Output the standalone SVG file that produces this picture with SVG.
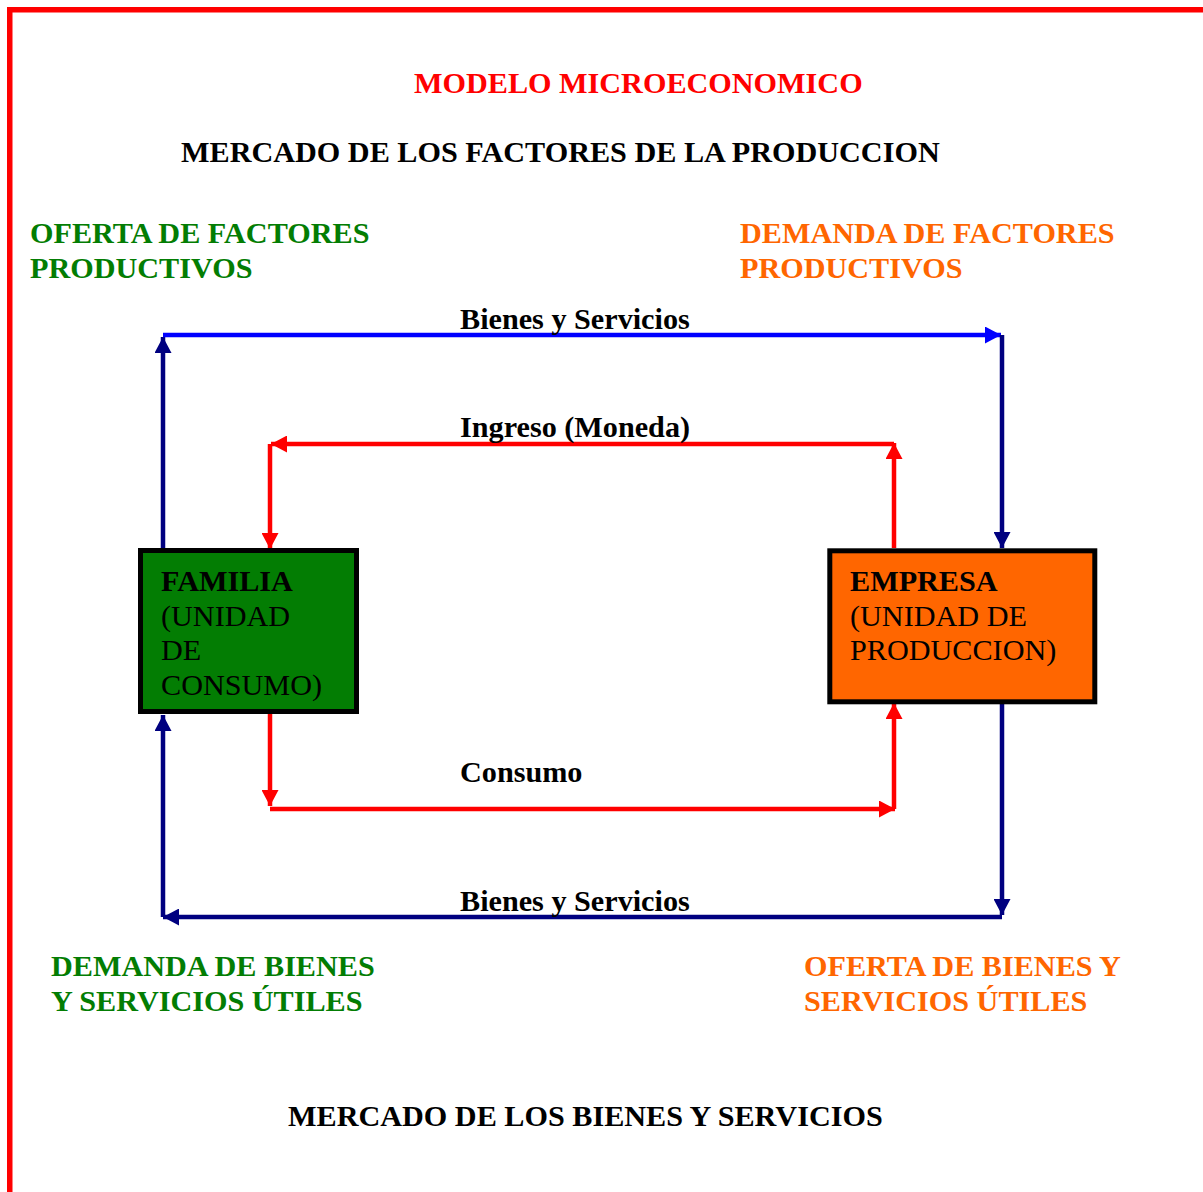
<svg xmlns="http://www.w3.org/2000/svg" width="1203" height="1192" viewBox="0 0 1203 1192">
  <style>
    text { font-family: "Liberation Serif", "Times New Roman", serif; font-size: 30.2px; }
    .b { font-weight: bold; }
    .red { fill: #ff0000; }
    .blk { fill: #000000; }
    .grn { fill: #037d03; }
    .org { fill: #ff6600; }
    .ln { fill: none; stroke-width: 4.5; }
    .navy { stroke: #000080; }
    .blue { stroke: #0000ff; }
    .rline { stroke: #ff0000; }
    .box { stroke: #000000; stroke-width: 5; }
  </style>
  <defs>
    <marker id="ahNavy" markerUnits="userSpaceOnUse" markerWidth="17" markerHeight="17" refX="16" refY="8.5" orient="auto">
      <path d="M0,0 L16,8.5 L0,17 Z" fill="#000080"/>
    </marker>
    <marker id="ahBlue" markerUnits="userSpaceOnUse" markerWidth="17" markerHeight="17" refX="16" refY="8.5" orient="auto">
      <path d="M0,0 L16,8.5 L0,17 Z" fill="#0000ff"/>
    </marker>
    <marker id="ahRed" markerUnits="userSpaceOnUse" markerWidth="17" markerHeight="17" refX="16" refY="8.5" orient="auto">
      <path d="M0,0 L16,8.5 L0,17 Z" fill="#ff0000"/>
    </marker>
  </defs>

  <rect x="0" y="0" width="1203" height="1192" fill="#ffffff"/>
  <!-- page frame: top and left edges -->
  <path d="M9.75,1200 V9.75 H1210" fill="none" stroke="#ff0000" stroke-width="5.5"/>

  <!-- headings -->
  <text class="b red" x="414" y="93">MODELO MICROECONOMICO</text>
  <text class="b blk" x="181" y="162">MERCADO DE LOS FACTORES DE LA PRODUCCION</text>

  <text class="b grn" x="30" y="243">OFERTA DE FACTORES</text>
  <text class="b grn" x="30" y="277.5">PRODUCTIVOS</text>
  <text class="b org" x="740" y="243">DEMANDA DE FACTORES</text>
  <text class="b org" x="740" y="277.5">PRODUCTIVOS</text>

  <text class="b grn" x="51" y="976">DEMANDA DE BIENES</text>
  <text class="b grn" x="51" y="1011">Y SERVICIOS ÚTILES</text>
  <text class="b org" x="804" y="976">OFERTA DE BIENES Y</text>
  <text class="b org" x="804" y="1011">SERVICIOS ÚTILES</text>

  <text class="b blk" x="288" y="1126">MERCADO DE LOS BIENES Y SERVICIOS</text>

  <!-- flows -->
  <g id="connectors">
    <path class="ln navy" d="M163,548 V337" marker-end="url(#ahNavy)"/>
    <path class="ln blue" d="M163,335 H1001" marker-end="url(#ahBlue)"/>
    <path class="ln navy" d="M1002,335 V548" marker-end="url(#ahNavy)"/>

    <path class="ln rline" d="M894,548 V443" marker-end="url(#ahRed)"/>
    <path class="ln rline" d="M894,444 H271" marker-end="url(#ahRed)"/>
    <path class="ln rline" d="M270,444 V549" marker-end="url(#ahRed)"/>

    <path class="ln rline" d="M270,714 V806" marker-end="url(#ahRed)"/>
    <path class="ln rline" d="M270,809 H895" marker-end="url(#ahRed)"/>
    <path class="ln rline" d="M894,809 V703" marker-end="url(#ahRed)"/>

    <path class="ln navy" d="M1002,704 V915" marker-end="url(#ahNavy)"/>
    <path class="ln navy" d="M1002,917 H163" marker-end="url(#ahNavy)"/>
    <path class="ln navy" d="M163,917 V715" marker-end="url(#ahNavy)"/>

    <text class="b blk" x="460" y="329">Bienes y Servicios</text>
    <text class="b blk" x="460" y="437">Ingreso (Moneda)</text>
    <text class="b blk" x="460" y="782">Consumo</text>
    <text class="b blk" x="460" y="911">Bienes y Servicios</text>
  </g>

  <g id="familia">
    <rect class="box" x="140.5" y="550.5" width="216" height="161" fill="#037d03"/>
    <text class="b blk" x="161" y="591">FAMILIA</text>
    <text class="blk" x="161" y="625.5">(UNIDAD</text>
    <text class="blk" x="161" y="660">DE</text>
    <text class="blk" x="161" y="694.5">CONSUMO)</text>
  </g>

  <g id="empresa">
    <rect class="box" x="829.8" y="550.8" width="265" height="151" fill="#ff6600"/>
    <text class="b blk" x="850" y="591">EMPRESA</text>
    <text class="blk" x="850" y="625.5">(UNIDAD DE</text>
    <text class="blk" x="850" y="660">PRODUCCION)</text>
  </g>
</svg>
